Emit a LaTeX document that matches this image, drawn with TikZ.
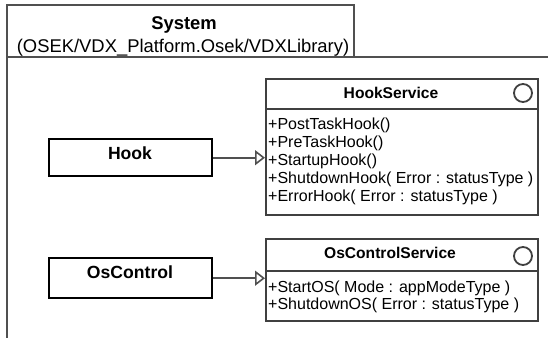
\documentclass[tikz,border=0pt]{standalone}
\usepackage{fontspec}
\setmainfont{Liberation Sans}
\usetikzlibrary{arrows.meta}
\definecolor{framegray}{HTML}{505050}
\definecolor{boxgray}{HTML}{404040}
\begin{document}
\begin{tikzpicture}[x=1pt,y=-1pt,
  frameline/.style={draw=framegray, line width=2pt},
  compbox/.style={draw=black, line width=2.4pt, rectangle, inner sep=0pt},
  classbox/.style={draw=boxgray, line width=2pt, rectangle, inner sep=0pt, fill=white},
  sepline/.style={draw=boxgray, line width=1.8pt},
  iface/.style={draw=boxgray, line width=1.8pt, circle, inner sep=0pt, minimum size=18pt},
  comptext/.style={font=\fontsize{17.6}{20}\selectfont\bfseries, inner sep=0pt, anchor=base},
  titletext/.style={font=\fontsize{15.6}{18}\selectfont\bfseries, inner sep=0pt, anchor=base},
  member/.style={font=\fontsize{16}{18}\selectfont, inner sep=0pt, anchor=base west},
  hdrtext/.style={font=\fontsize{18.4}{21}\selectfont, inner sep=0pt, anchor=base},
  conn/.style={draw=framegray, line width=1.6pt, -{Triangle[open, length=10pt, width=15pt, fill=white, line width=1.6pt]}}
]
\useasboundingbox (0,0) rectangle (548,337);
% system frame
\draw[frameline] (7,345) -- (7,5) -- (354,5) -- (354,57);
\draw[frameline] (7,57) -- (555,57);
\node[hdrtext, font=\fontsize{18.4}{21}\selectfont\bfseries] (systitle) at (184,29.5) {System};
\node[hdrtext] (syspath) at (183,52.5) {(OSEK/VDX\_Platform.Osek/VDXLibrary)};

% components
\node[compbox, anchor=north west, minimum width=163pt, minimum height=37pt] (hook) at (48,138) {};
\node[comptext] (hooklbl) at (130,159.3) {Hook};
\node[compbox, anchor=north west, minimum width=163pt, minimum height=40pt] (osc) at (48,257) {};
\node[comptext] (osclbl) at (130,278) {OsControl};

% HookService interface
\node[classbox, anchor=north west, minimum width=272pt, minimum height=136pt] (hs) at (265,78) {};
\draw[sepline] ([yshift=-31pt]hs.north west) -- ([yshift=-31pt]hs.north east);
\node[titletext] (hstitle) at (391,98.5) {HookService};
\node[iface] (hsicon) at (523,93) {};
\node[member] (hs1) at (268,129) {+PostTaskHook()};
\node[member] (hs2) at (268,147) {+PreTaskHook()};
\node[member] (hs3) at (268,165) {+StartupHook()};
\node[member] (hs4) at (268,183) {+ShutdownHook( Error : statusType )};
\node[member] (hs5) at (268,201) {+ErrorHook( Error : statusType )};

% OsControlService interface
\node[classbox, anchor=north west, minimum width=272pt, minimum height=82pt] (os) at (265,238) {};
\draw[sepline] ([yshift=-33pt]os.north west) -- ([yshift=-33pt]os.north east);
\node[titletext] (ostitle) at (390,258.5) {OsControlService};
\node[iface] (osicon) at (523,256) {};
\node[member] (os1) at (268,292) {+StartOS( Mode : appModeType )};
\node[member] (os2) at (268,309.5) {+ShutdownOS( Error : statusType )};

% connectors
\draw[conn] (hook.east) -- (hook.east -| hs.west);
\draw[conn] (osc.east) -- (osc.east -| os.west);
\end{tikzpicture}
\end{document}
